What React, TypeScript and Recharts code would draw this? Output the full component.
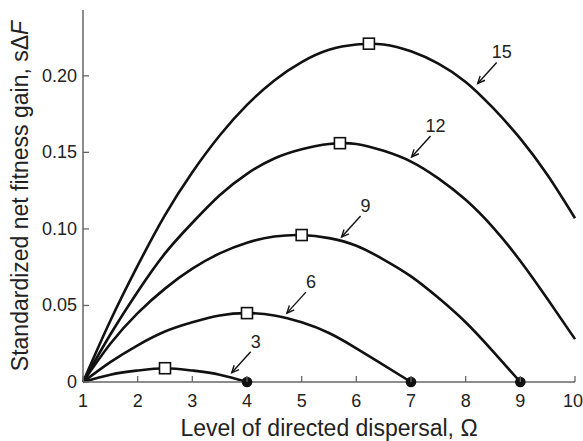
import {
  ComposedChart,
  Line,
  Scatter,
  XAxis,
  YAxis,
  Label,
} from "recharts";

// dispersal levels (x)
const omegaGrid = [1, 1.5, 2, 2.5, 3, 3.5, 4, 4.5, 5, 5.5, 6, 6.5, 7, 7.5, 8, 8.5, 9, 9.5, 10];

// fitness gain per curve (labelled 3, 6, 9, 12, 15)
const gain15 = [0, 0.04, 0.076, 0.109, 0.137, 0.161, 0.181, 0.197, 0.209, 0.217, 0.2205, 0.2205, 0.216, 0.208, 0.196, 0.179, 0.159, 0.135, 0.107];
const gain12 = [0, 0.031, 0.059, 0.084, 0.104, 0.122, 0.136, 0.146, 0.152, 0.1555, 0.1555, 0.151, 0.144, 0.133, 0.119, 0.101, 0.079, 0.054, 0.028];
const gain9 = [0, 0.025, 0.045, 0.061, 0.074, 0.084, 0.091, 0.095, 0.096, 0.094, 0.089, 0.08, 0.069, 0.055, 0.039, 0.02, 0];
const gain6 = [0, 0.013, 0.024, 0.033, 0.039, 0.0435, 0.045, 0.0435, 0.039, 0.032, 0.022, 0.011, 0];
const gain3 = [0, 0.0048, 0.0075, 0.009, 0.0075, 0.0048, 0];

// optimum (open squares) and end points (filled dots)
const peakOmega = [2.5, 4, 5, 5.7, 6.23];
const peakGain = [0.009, 0.045, 0.096, 0.156, 0.221];
const endOmega = [4, 7, 9];
const endGain = [0, 0, 0];

// arrow annotations: label and the point the arrow touches
const arrowLabels = ["15", "12", "9", "6", "3"];
const arrowOmega = [8.22, 7.01, 5.73, 4.73, 3.72];
const arrowGain = [0.195, 0.147, 0.0947, 0.045, 0.006];

const xTicks = [1, 2, 3, 4, 5, 6, 7, 8, 9, 10];
const yTicks = [0, 0.05, 0.1, 0.15, 0.2];

const FONT = "'Liberation Sans', Arial, Helvetica, sans-serif";
const AXIS = "#666";
const INK = "#111";

const toSeries = (gains: number[]) =>
  gains.map((g, i) => ({ omega: omegaGrid[i], gain: g }));

const curves = [gain3, gain6, gain9, gain12, gain15].map(toSeries);
const peaks = peakOmega.map((o, i) => ({ omega: o, gain: peakGain[i] }));
const ends = endOmega.map((o, i) => ({ omega: o, gain: endGain[i] }));
const arrows = arrowLabels.map((label, i) => ({
  omega: arrowOmega[i],
  gain: arrowGain[i],
  label,
}));

function XTick({ x, y, payload, index }: any) {
  // last label sits on the right edge, keep it inside the picture
  const last = index === xTicks.length - 1;
  return (
    <g>
      <line x1={x} y1={y} x2={x} y2={y - 6} stroke={AXIS} strokeWidth={1.3} />
      <text
        x={last ? x + 8 : x}
        y={y + 25}
        textAnchor={last ? "end" : "middle"}
        fontSize={18}
        fill="#222"
        fontFamily={FONT}
      >
        {payload.value}
      </text>
    </g>
  );
}

function YTick({ x, y, payload }: any) {
  const v = payload.value as number;
  return (
    <g>
      <line x1={x} y1={y} x2={x + 6} y2={y} stroke={AXIS} strokeWidth={1.3} />
      <text x={x - 6} y={y + 6} textAnchor="end" fontSize={18} fill="#222" fontFamily={FONT}>
        {v === 0 ? "0" : v.toFixed(2)}
      </text>
    </g>
  );
}

function YLabel({ viewBox }: any) {
  const cx = viewBox.x + 28;
  const cy = viewBox.y + viewBox.height / 2;
  return (
    <text
      x={cx}
      y={cy}
      transform={`rotate(-90, ${cx}, ${cy})`}
      textAnchor="middle"
      fontSize={23}
      fill="#222"
      fontFamily={FONT}
    >
      Standardized net fitness gain, sΔ<tspan fontStyle="italic">F</tspan>
    </text>
  );
}

const Square = ({ cx, cy }: any) => (
  <rect x={cx - 5.5} y={cy - 5.5} width={11} height={11} fill="#fff" stroke={INK} strokeWidth={1.6} />
);

const Dot = ({ cx, cy }: any) => <circle cx={cx} cy={cy} r={5.3} fill={INK} />;

function Arrow({ cx, cy, payload }: any) {
  const tx = cx + 19;
  const ty = cy - 21;
  const ang = Math.atan2(cy - ty, cx - tx);
  const h = 8;
  const s = 0.42;
  const l = `${cx - h * Math.cos(ang - s)},${cy - h * Math.sin(ang - s)}`;
  const r = `${cx - h * Math.cos(ang + s)},${cy - h * Math.sin(ang + s)}`;
  return (
    <g>
      <line x1={tx} y1={ty} x2={cx} y2={cy} stroke={INK} strokeWidth={1.4} />
      <polyline points={`${l} ${cx},${cy} ${r}`} fill="none" stroke={INK} strokeWidth={1.4} />
      <text x={cx + 24} y={cy - 25} textAnchor="middle" fontSize={18} fill="#222" fontFamily={FONT}>
        {payload.label}
      </text>
    </g>
  );
}

export default function App() {
  return (
    <div style={{ width: 583, height: 441, background: "#fff" }}>
      <style>{"body{margin:0}"}</style>
      <ComposedChart width={583} height={441} margin={{ top: 10, right: 8, bottom: 0, left: 0 }}>
        <XAxis
          type="number"
          dataKey="omega"
          domain={[1, 10]}
          ticks={xTicks}
          height={59}
          tickSize={0}
          tickMargin={0}
          tick={<XTick />}
          axisLine={{ stroke: AXIS, strokeWidth: 1.5 }}
          allowDuplicatedCategory={false}
        >
          <Label
            value="Level of directed dispersal, Ω"
            position="insideBottom"
            offset={5}
            style={{ fontSize: 23, fill: "#222", fontFamily: FONT }}
          />
        </XAxis>
        <YAxis
          type="number"
          dataKey="gain"
          domain={[0, 0.243]}
          ticks={yTicks}
          width={83}
          tickSize={0}
          tickMargin={0}
          tick={<YTick />}
          axisLine={{ stroke: AXIS, strokeWidth: 1.5 }}
        >
          <Label content={<YLabel />} />
        </YAxis>
        {curves.map((d, i) => (
          <Line
            key={i}
            data={d}
            dataKey="gain"
            type="natural"
            stroke={INK}
            strokeWidth={2.6}
            dot={false}
            activeDot={false}
            isAnimationActive={false}
          />
        ))}
        <Scatter data={ends} dataKey="gain" shape={<Dot />} isAnimationActive={false} />
        <Scatter data={peaks} dataKey="gain" shape={<Square />} isAnimationActive={false} />
        <Scatter data={arrows} dataKey="gain" shape={<Arrow />} isAnimationActive={false} />
      </ComposedChart>
    </div>
  );
}
